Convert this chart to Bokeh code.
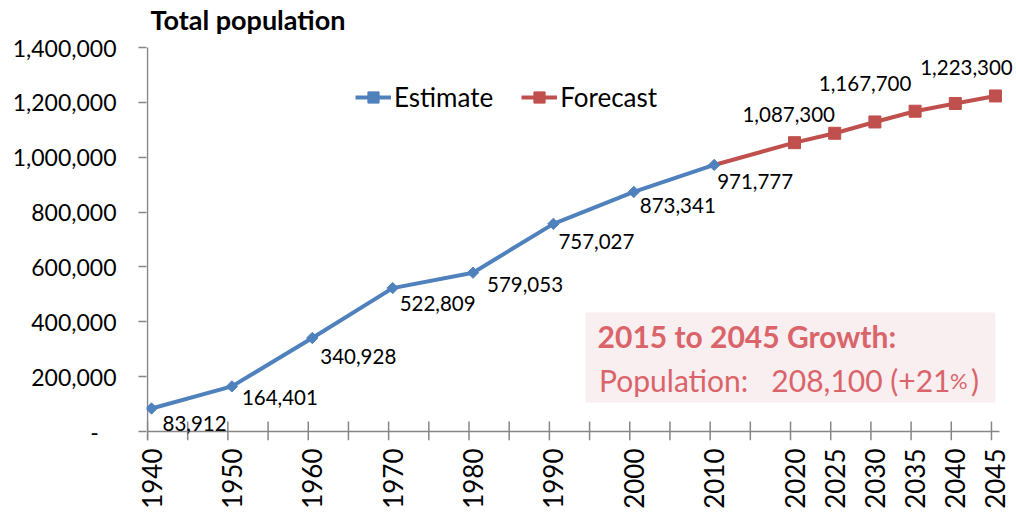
import math
from bokeh.plotting import figure
from bokeh.models import (ColumnDataSource, Range1d, FixedTicker, Legend,
                          LegendItem, BoxAnnotation, Label, LabelSet)
from bokeh.embed import file_html
from bokeh.resources import INLINE
from bokeh.core.properties import value

# ---------------- data ----------------
est_years = [1940, 1950, 1960, 1970, 1980, 1990, 2000, 2010]
est_values = [83912, 164401, 340928, 522809, 579053, 757027, 873341, 971777]
fc_years = [2020, 2025, 2030, 2035, 2040, 2045]
fc_values = [1053000, 1087300, 1128500, 1167700, 1196000, 1223300]
fc_labeled_years = [2025, 2035, 2045]
x_label_years = [1940, 1950, 1960, 1970, 1980, 1990, 2000, 2010,
                 2020, 2025, 2030, 2035, 2040, 2045]
y_ticks = [0, 200000, 400000, 600000, 800000, 1000000, 1200000, 1400000]
series_names = ["Estimate", "Forecast"]
title_text = "Total population"
growth_head = "2015 to 2045 Growth:"
growth_main = "Population:\u00a0\u00a0 208,100 (+21"
growth_pct = "%"
growth_close = ")"

# ---------------- layout / style ----------------
FONT = "Lato"
BLUE = "#4F81BD"
RED = "#C0504D"
AXIS = "#868686"
NOTE = "#D9646A"
NOTE_BG = "#F9EEF0"

W, H = 1016, 512
AXIS_X = 147                      # pixel column of the y axis line
MB_L, MB_R, MB_T, MB_B = AXIS_X - 1, 0, 0, 72
frame_h = H - MB_T - MB_B
y_top = y_ticks[-1]
unit = y_top / 384.0               # data units per pixel
y_bottom = -9 * unit
y_frame_top = y_bottom + frame_h * unit
axis_start, axis_end = 1939.5, 2045.5          # extent of the drawn x axis
px_per_year = 852 / (axis_end - axis_start)
x_start = axis_start - 1 / px_per_year
x_end = axis_start + (W - AXIS_X) / px_per_year

p = figure(width=W, height=H, output_backend="svg", toolbar_location=None,
           x_range=Range1d(x_start, x_end), y_range=Range1d(y_bottom, y_frame_top),
           min_border_left=MB_L, min_border_right=MB_R,
           min_border_top=MB_T, min_border_bottom=MB_B)
p.outline_line_color = None
p.grid.visible = False
p.background_fill_color = "white"

# title
p.add_layout(Label(x=axis_start, y=y_top, x_offset=3, y_offset=28, text=title_text,
                   text_font=FONT, text_font_size="27px", text_font_style="bold",
                   text_color="black", text_align="left", text_baseline="alphabetic"))

# y axis (ticks + labels from the axis, line drawn from 0 to top tick)
p.yaxis.ticker = FixedTicker(ticks=y_ticks)
p.yaxis.major_label_overrides = {t: ("-\u00a0\u00a0\u00a0" if t == 0 else f"{t:,}") for t in y_ticks}
p.yaxis.major_label_text_font = FONT
p.yaxis.major_label_text_font_size = "23px"
p.yaxis.major_label_text_color = "black"
p.yaxis.major_label_standoff = 22
p.yaxis.major_tick_out = 8
p.yaxis.major_tick_in = 0
p.yaxis.minor_tick_line_color = None
p.yaxis.axis_line_color = None
p.yaxis.major_tick_line_color = AXIS
p.yaxis.major_tick_line_width = 1.5
p.segment(x0=[axis_start], y0=[y_bottom], x1=[axis_start], y1=[y_top],
          line_color=AXIS, line_width=1.5)

# x axis: labels only (tick marks drawn between, half a year left of points)
p.xaxis.ticker = FixedTicker(ticks=x_label_years)
p.xaxis.major_label_orientation = math.pi / 2
p.xaxis.major_label_text_font = FONT
p.xaxis.major_label_text_font_size = "26px"
p.xaxis.major_label_text_color = "black"
p.xaxis.major_label_standoff = 8
p.xaxis.major_tick_out = 0
p.xaxis.major_tick_in = 0
p.xaxis.minor_tick_line_color = None
p.xaxis.axis_line_color = None

p.segment(x0=[axis_start], y0=[0], x1=[axis_end], y1=[0],
          line_color=AXIS, line_width=1.5)
tick_x = [y - 0.5 for y in range(est_years[0], fc_years[-1] + 1, 5)]
p.segment(x0=tick_x, y0=[y_bottom] * len(tick_x), x1=tick_x,
          y1=[10 * unit] * len(tick_x), line_color=AXIS, line_width=1.5)

# growth note box
p.add_layout(BoxAnnotation(left=1994.0, right=2045.0, top=434000, bottom=106000,
                           fill_color=NOTE_BG, fill_alpha=1, line_color=None,
                           level="underlay"))
p.add_layout(Label(x=1995.5, y=350000, text=growth_head, text_font=FONT,
                   text_font_size="30px", text_font_style="bold", text_color=NOTE,
                   text_align="left", text_baseline="middle"))
p.add_layout(Label(x=2042.95, y=186000, text=growth_close, text_font=FONT,
                   text_font_size="30px", text_color=NOTE,
                   text_align="right", text_baseline="middle"))
p.add_layout(Label(x=2041.55, y=186000, text=growth_pct, text_font=FONT,
                   text_font_size="22px", text_color=NOTE,
                   text_align="right", text_baseline="middle"))
p.add_layout(Label(x=2039.4, y=186000, text=growth_main, text_font=FONT,
                   text_font_size="30px", text_color=NOTE,
                   text_align="right", text_baseline="middle"))

# series
fc_line_x = [est_years[-1]] + fc_years
fc_line_y = [est_values[-1]] + fc_values
r_fc_line = p.line(fc_line_x, fc_line_y, line_color=RED, line_width=4)
r_est_line = p.line(est_years, est_values, line_color=BLUE, line_width=4)
r_est_pts = p.scatter(est_years, est_values, marker="square", angle=math.pi / 4,
                      size=8, fill_color=BLUE, line_color=BLUE)
r_fc_pts = p.scatter(fc_years, fc_values, marker="square", size=12,
                     fill_color=RED, line_color=RED)

# data labels
est_dx = [11, 10, 8, 7, 14, 5, 6, 3]
est_dy = [15, 11, 19, 15, 12, 18, 14, 17]
est_src = ColumnDataSource(dict(x=est_years, y=est_values,
                                t=[f"{v:,}" for v in est_values],
                                dx=est_dx, dy=est_dy))
p.text(x="x", y="y", text="t", x_offset="dx", y_offset="dy", source=est_src,
       text_font=value(FONT), text_font_size="20.5px", text_color="black",
       text_align="left", text_baseline="middle")

fc_lab_vals = [fc_values[fc_years.index(y)] for y in fc_labeled_years]
fc_dx = [-46, -50, -29]
fc_dy = [19, 28, 28]
fc_src = ColumnDataSource(dict(x=fc_labeled_years, y=fc_lab_vals,
                               t=[f"{v:,}" for v in fc_lab_vals],
                               dx=fc_dx, dy=fc_dy))
p.add_layout(LabelSet(x="x", y="y", text="t", x_offset="dx", y_offset="dy",
                      source=fc_src, text_font=value(FONT),
                      text_font_size="20.5px", text_color="black",
                      text_align="center", text_baseline="middle"))

legend = Legend(items=[LegendItem(label=series_names[0], renderers=[r_est_line, r_est_pts]),
                       LegendItem(label=series_names[1], renderers=[r_fc_line, r_fc_pts])],
                location=(209, 327), orientation="horizontal",
                label_text_font=FONT, label_text_font_size="26px",
                label_text_color="black", glyph_width=36, glyph_height=28,
                label_standoff=3, spacing=28, padding=0, margin=0,
                border_line_color=None, background_fill_alpha=0)
p.add_layout(legend)

open("out.html", "w").write(file_html(p, INLINE))
